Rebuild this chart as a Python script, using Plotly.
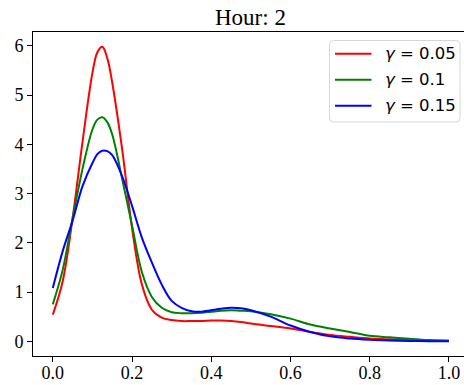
import plotly.graph_objects as go

x_vals = [0.0, 0.025, 0.05, 0.075, 0.1, 0.1125, 0.125, 0.1375, 0.15, 0.175, 0.2, 0.225,
          0.25, 0.275, 0.3, 0.325, 0.35, 0.375, 0.4, 0.425, 0.45, 0.475, 0.5, 0.55,
          0.6, 0.65, 0.7, 0.75, 0.8, 0.85, 0.9, 0.95, 1.0]

red_g005 = [0.54, 1.22, 2.5, 4.05, 5.45, 5.87, 5.98, 5.75, 5.25, 3.9, 2.3, 1.15,
            0.64, 0.48, 0.43, 0.41, 0.41, 0.41, 0.42, 0.42, 0.41, 0.39, 0.36, 0.31,
            0.26, 0.19, 0.13, 0.09, 0.055, 0.04, 0.03, 0.015, 0.01]

green_g01 = [0.75, 1.45, 2.5, 3.5, 4.3, 4.5, 4.55, 4.45, 4.2, 3.3, 2.35, 1.4,
             0.9, 0.68, 0.59, 0.57, 0.57, 0.58, 0.60, 0.62, 0.63, 0.62, 0.61, 0.55,
             0.46, 0.34, 0.26, 0.19, 0.11, 0.08, 0.05, 0.025, 0.012]

blue_g015 = [1.08, 1.83, 2.45, 3.15, 3.62, 3.8, 3.87, 3.86, 3.78, 3.35, 2.75, 2.1,
             1.6, 1.15, 0.82, 0.68, 0.61, 0.6, 0.63, 0.66, 0.68, 0.67, 0.63, 0.5,
             0.32, 0.19, 0.10, 0.055, 0.03, 0.015, 0.006, 0.003, 0.002]

series = [
    ("<i>γ</i> = 0.05", red_g005, "#ff0000"),
    ("<i>γ</i> = 0.1", green_g01, "#008000"),
    ("<i>γ</i> = 0.15", blue_g015, "#0000ff"),
]

x_ticks = [0.0, 0.2, 0.4, 0.6, 0.8, 1.0]
x_ticklabels = ["0.0", "0.2", "0.4", "0.6", "0.8", "1.0"]
y_ticks = [0, 1, 2, 3, 4, 5, 6]
y_ticklabels = ["0", "1", "2", "3", "4", "5", "6"]
title_text = "Hour: 2"

W, H = 464, 385
ML, MR, MT, MB = 33, 0, 31.5, 29.3
pw, ph = W - ML - MR, H - MT - MB


def px_x(p):
    return (p - ML) / pw


def px_y(p):
    return (H - MB - p) / ph


fig = go.Figure()
for name, vals, color in series:
    fig.add_trace(go.Scatter(x=x_vals, y=vals, mode="lines", name=name, showlegend=False,
                             line=dict(color=color, width=2, shape="spline", smoothing=1)))

# manual legend box (matplotlib-style rounded frame)
lx0, lx1, ly0, ly1, r = 329.5, 460, 40, 121.5, 4
X0, X1, Y0, Y1 = px_x(lx0), px_x(lx1), px_y(ly0), px_y(ly1)
rx, ry = r / pw, r / ph
path = (f"M {X0+rx},{Y0} L {X1-rx},{Y0} Q {X1},{Y0} {X1},{Y0-ry} "
        f"L {X1},{Y1+ry} Q {X1},{Y1} {X1-rx},{Y1} L {X0+rx},{Y1} "
        f"Q {X0},{Y1} {X0},{Y1+ry} L {X0},{Y0-ry} Q {X0},{Y0} {X0+rx},{Y0} Z")
shapes = [dict(type="path", xref="paper", yref="paper", path=path,
               fillcolor="rgba(255,255,255,0.8)", line=dict(color="#d6d6d6", width=1))]
annotations = []
row_y = [53.3, 79.3, 105.3]
for (name, vals, color), ry_px in zip(series, row_y):
    shapes.append(dict(type="line", xref="paper", yref="paper",
                       x0=px_x(335), x1=px_x(371.5), y0=px_y(ry_px), y1=px_y(ry_px),
                       line=dict(color=color, width=2)))
    annotations.append(dict(text=name, xref="paper", yref="paper", x=px_x(383), y=px_y(ry_px),
                            xanchor="left", yanchor="middle", showarrow=False,
                            font=dict(family="DejaVu Sans", size=16.5, color="black")))

serif = "Liberation Serif, Times New Roman, serif"
annotations.append(dict(text=title_text, xref="paper", yref="paper", x=px_x(250.9), y=1,
                        xanchor="center", yanchor="bottom", showarrow=False, yshift=0,
                        font=dict(family=serif, size=23, color="black")))

fig.update_layout(
    template="none",
    width=W, height=H,
    margin=dict(l=ML, r=MR, t=MT, b=MB, pad=0, autoexpand=False),
    plot_bgcolor="white", paper_bgcolor="white",
    showlegend=False,
    shapes=shapes,
    annotations=annotations,
)
fig.update_xaxes(range=[-0.05, 1.0379], tickvals=x_ticks, ticktext=x_ticklabels, automargin=False,
                 showgrid=False, zeroline=False, showline=True, linecolor="black", linewidth=1,
                 mirror=True, ticks="outside", ticklen=5, tickwidth=1, tickcolor="black",
                 ticklabelstandoff=-5,
                 tickfont=dict(family=serif, size=18, color="black"))
fig.update_yaxes(range=[-0.299, 6.28], tickvals=y_ticks, ticktext=y_ticklabels, automargin=False,
                 showgrid=False, zeroline=False, showline=True, linecolor="black", linewidth=1,
                 mirror=False, ticks="outside", ticklen=5, tickwidth=1, tickcolor="black",
                 tickfont=dict(family=serif, size=18, color="black"))

fig.write_html("out.html", config={"displayModeBar": False},
               post_script="document.body.style.margin='0px';document.body.style.padding='0px';")
